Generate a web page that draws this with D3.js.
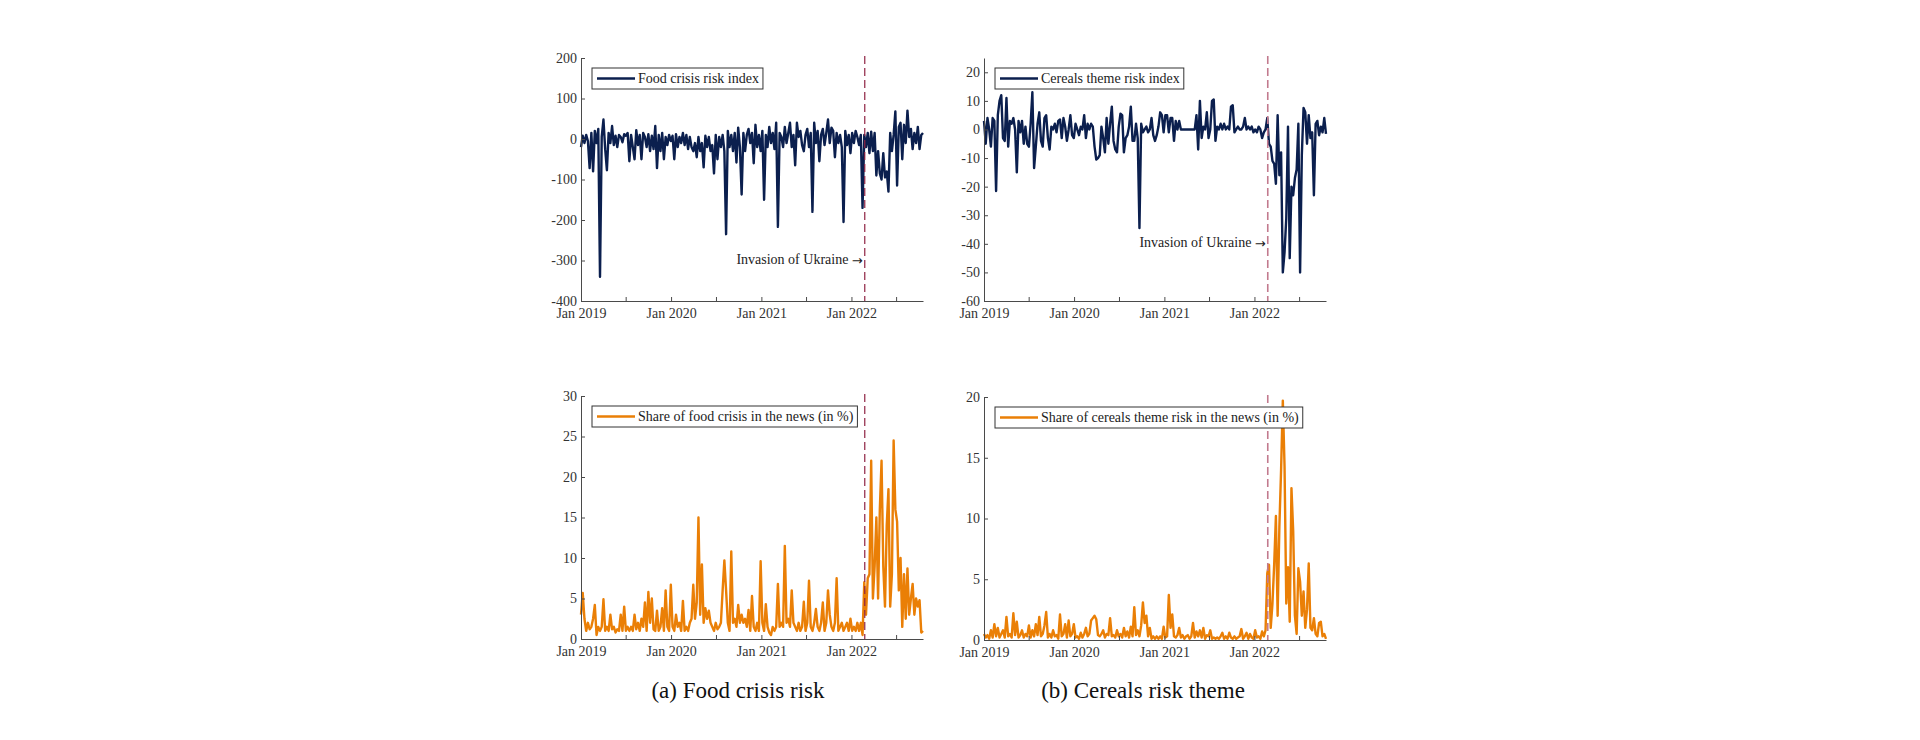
<!DOCTYPE html>
<html>
<head>
<meta charset="utf-8">
<script src="https://cdn.jsdelivr.net/npm/d3@7"></script>
<style>
body{margin:0;background:#fff;}
text{font-family:"Liberation Serif","DejaVu Serif",serif;}
</style>
</head>
<body>
<svg id="chart" width="1920" height="740"></svg>
<script>
// weekly observations starting Jan 1 2019
const startDate = new Date(2019, 0, 1)
const invasionDate = new Date(2022, 1, 24)
const xTickDates = [new Date(2019,0,1), new Date(2019,6,1), new Date(2020,0,1), new Date(2020,6,1),
                    new Date(2021,0,1), new Date(2021,6,1), new Date(2022,0,1), new Date(2022,6,1)]
const xTickLabels = ["Jan 2019", "", "Jan 2020", "", "Jan 2021", "", "Jan 2022", ""]

const foodRisk = [
  -20, 8, -10, 10, -5, -72, 15, -80, 20, -10,
  25, -340, 5, 48, -25, -77, 15, -10, 32, -15,
  8, -20, 10, 5, -8, 12, 8, 15, -55, 10,
  -20, -50, 22, -15, 10, -50, 15, 5, -20, 12,
  -30, 8, -25, 32, -72, 10, -30, 15, -50, 5,
  -15, 10, -5, 8, -50, 12, -20, 5, -10, 15,
  -15, 10, -25, 5, -20, -30, -10, -45, 5, -30,
  -10, -70, 8, -20, 5, -30, -15, -85, 10, -50,
  5, -20, 10, -30, -235, 20, -20, 10, -30, 15,
  -58, 28, -20, -137, 15, -30, 10, 25, -10, 15,
  -60, 35, -20, 10, -30, 20, -150, 10, -20, 30,
  -10, 15, -25, 40, -217, 15, 5, -20, 30, -10,
  15, 40, -20, 10, -65, 40, 5, 20, -15, -30,
  10, 25, -20, 15, -180, 40, -10, 20, -55, 10,
  25, -15, 15, 48, -10, 28, 20, -45, 15, -10,
  10, -20, -205, 20, -15, 10, -35, 15, -10, 20,
  5, -15, 10, -170, 10, -20, 15, -35, 18, -30,
  15, -90, -30, -85, -100, -35, -95, -80, -130, 15,
  -30, 10, 68, -115, 30, 40, -50, 35, -10, 70,
  5, 25, -25, 15, -10, 30, -25, 10, 15
]
const cerealsRisk = [
  3, -5, 4, 0, -6, 4, 3, -21.5, 5, 10,
  12, -3, -4, 11, -6, 3, 2, 4, 0, -15,
  3, -1, 3, -5, 1, -5, -6, 2, 13, -13.5,
  -6, 2, 6, -4, -6, 4, 5, -3, -7, 1,
  0, 2, -1, 3, 3.5, -3, 4, 1, -4, 0,
  5, -2, -3, 2, 0, -2, 1, 0, 5, -3,
  2, 0, 2, 1, -6, -10.5, -10, -9, 1, -3,
  -8, 4, -5, 2, 8, -4, -7, -8, 1, 5.5,
  5, -8, -3, -2, 1, 8, -4, -4, 2, -3,
  -34.5, 2, -1, 0, 1, -1, 0, 4, -2, -4,
  -2, 1, 6, 5, -1, 5, 5, -1, 4, 4,
  -4, 3, 0, 3, 0, 0, 0, 0, 0, 0,
  0, 0, 0, 5, -7, 10, -3, 1, 0, 6,
  -3, 0, 10, 10.5, -4, 1, 0, 2, 0, 2,
  0, 1, 0, 8, 8.5, -1, 0, 1, 0, 0,
  1, 4, 0, 1, 0, 1, -1, 0, -1, 1,
  0, -3, -1, 0, 4, -5, -6, -11, -12, -19,
  5, -16, -8, -50, -43, -31, 1, -45, -20, -23,
  -17, -14, 2, -50, -9, 7.5, 6, -5, 5, -3,
  -1, -23, 2, 3, -2, 1, -1, 4, -1.5
]
const foodShare = [
  3, 5.7, 2.5, 1, 2, 1.2, 1.5, 2.5, 4.2, 0.5,
  1.5, 1, 1.5, 4.9, 1, 1.5, 1, 3, 1.2, 1.5,
  0.8, 1.2, 1, 3, 1, 4, 1, 1.5, 1, 1.5,
  1, 3, 1.2, 2, 1, 2.5, 1.5, 4.5, 1, 5.8,
  2, 5, 1.2, 1, 3.5, 1, 1.5, 3.8, 1, 6,
  1.5, 1, 6.7, 1.5, 1, 3, 1.5, 2, 1, 4.7,
  1, 1.5, 1, 2, 2.5, 6.7, 2.5, 4.5, 15, 3,
  9.2, 2, 3.8, 2.5, 3.5, 2, 1.5, 1, 2, 1.2,
  1.5, 2, 6, 9.7, 6, 2, 1, 10.8, 2, 2.5,
  1.5, 4.2, 2, 3, 2, 2.5, 1.5, 3.6, 1, 5.3,
  1.5, 1, 2, 1, 9.6, 2, 1, 4.3, 1.5, 0.8,
  0.5, 1.5, 1, 1.5, 6.8, 1.5, 2, 1.5, 11.5, 2,
  2.5, 1.5, 6, 2, 1.5, 1, 2, 1, 1.5, 4.6,
  1, 2, 7.2, 1.5, 1, 2, 3.7, 1.5, 1, 2,
  4.5, 1, 2, 6, 3, 1.5, 1, 2, 7.5, 1,
  1.5, 2, 1, 1.5, 2, 1, 2.5, 1, 1.5, 1,
  2, 1, 2, 0.5, 7, 3, 7.5, 8, 22, 5,
  9, 15, 5, 16, 22, 9, 4, 14, 18.5, 4,
  8, 24.5, 16, 14.5, 6, 10, 1.5, 8, 2.5, 8.7,
  3, 5, 6.8, 3, 5, 4, 4.8, 0.8, 1
]
const cerealsShare = [
  0.5, 0.2, 0.4, 0.1, 0.8, 0.2, 1.3, 0.3, 1, 0.2,
  0.5, 0.8, 0.2, 1.9, 0.3, 0.5, 0.2, 2.2, 0.4, 1.5,
  0.2, 0.4, 0.8, 0.2, 0.5, 0.3, 1.2, 0.2, 0.8, 0.3,
  1.3, 0.4, 1.9, 0.3, 0.5, 1.2, 2.3, 0.2, 0.5, 0.2,
  0.8, 0.3, 0.4, 0.1, 2.1, 0.3, 0.5, 1.3, 0.2, 1.6,
  0.3, 0.5, 1.3, 0.2, 0.3, 0.1, 0.6, 0.2, 0.5, 1,
  0.3, 0.5, 1.6, 1.8, 2, 1.7, 0.4, 0.3, 0.5, 0.8,
  0.2, 0.5, 0.4, 1.8, 0.3, 0.4, 0.2, 0.8, 0.3, 0.5,
  0.2, 1, 0.3, 0.7, 0.2, 1.1, 0.3, 2.7, 0.4, 0.8,
  0.3, 1.2, 3.1, 1.4, 2, 0.3, 1, 0.1, 0.3, 0.1,
  0.3, 0.1, 0.3, 0.1, 1.1, 0.2, 0.3, 3.7, 1, 2.1,
  0.3, 0.2, 0.4, 1, 0.2, 0.4, 0.1, 0.3, 0.4, 0.1,
  0.3, 1.4, 0.2, 0.7, 0.3, 0.8, 0.2, 1, 0.1, 0.4,
  0.3, 0.8, 0.1, 0.2, 0.1, 0.2, 0.1, 0.3, 0.6, 0.1,
  0.3, 0.1, 0.6, 0.2, 0.1, 0.3, 0.1, 0.2, 0.3, 0.9,
  0.1, 0.3, 0.6, 0.1, 0.5, 0.2, 0.1, 0.8, 0.2, 0.3,
  0.1, 0.7, 0.3, 0.8, 5.5, 6.2, 1, 3, 6.2, 10.2,
  2, 9.3, 14, 19.7, 14.3, 3, 6, 1.5, 12.5, 9,
  2, 0.5, 5.9, 4.8, 2, 4, 1, 2.5, 6.3, 1,
  0.8, 1.8, 0.5, 0.3, 1.4, 1.5, 0.3, 0.5, 0.1
]

const foodRiskTicks = [-400, -300, -200, -100, 0, 100, 200]
const cerealsRiskTicks = [-60, -50, -40, -30, -20, -10, 0, 10, 20]
const foodShareTicks = [0, 5, 10, 15, 20, 25, 30]
const cerealsShareTicks = [0, 5, 10, 15, 20]

const dates = foodRisk.map((d, i) => d3.timeDay.offset(startDate, 7 * i))

const navy = "#0b1f4e"
const orange = "#ea7f06"
const axisColor = "#4a4a4a"

const panels = [
  {values: foodRisk, domain: [-400, 200], ticks: foodRiskTicks, label: "Food crisis risk index",
   color: navy, x0: 581, x1: 923, y0: 58, y1: 301, annot: -300, vline: "#8e2343", vw: 1.2},
  {values: cerealsRisk, domain: [-60, 25], ticks: cerealsRiskTicks, label: "Cereals theme risk index",
   color: navy, x0: 984, x1: 1326, y0: 58, y1: 301, annot: -40, vline: "#c27a8e", vw: 1.6},
  {values: foodShare, domain: [0, 30], ticks: foodShareTicks, label: "Share of food crisis in the news (in %)",
   color: orange, x0: 581, x1: 923, y0: 396, y1: 639, annot: null, vline: "#8e2343", vw: 1.2},
  {values: cerealsShare, domain: [0, 20], ticks: cerealsShareTicks, label: "Share of cereals theme risk in the news (in %)",
   color: orange, x0: 984, x1: 1326, y0: 397, y1: 640, annot: null, vline: "#c27a8e", vw: 1.6}
]

const svg = d3.select("#chart")

function drawPanel(p){
    const g = svg.append("g")
    const x = d3.scaleTime().domain([dates[0], dates[dates.length - 1]]).range([p.x0, p.x1])
    const y = d3.scaleLinear().domain(p.domain).range([p.y1, p.y0])

    const line = d3.line()
        .x((d, i) => x(dates[i]))
        .y(d => y(d))

    g.append("path")
        .datum(p.values)
        .attr("d", line)
        .attr("fill", "none")
        .attr("stroke", p.color)
        .attr("stroke-width", 2.4)
        .attr("stroke-linejoin", "round")

    // invasion marker
    g.append("line")
        .attr("x1", x(invasionDate)).attr("x2", x(invasionDate))
        .attr("y1", p.y0 - 2).attr("y2", p.y1)
        .attr("stroke", p.vline)
        .attr("stroke-width", p.vw)
        .attr("stroke-dasharray", "8,4")

    g.append("g")
        .attr("class", "xaxis")
        .attr("transform", `translate(0,${p.y1})`)
        .call(d3.axisBottom(x).tickValues(xTickDates).tickFormat((d, i) => xTickLabels[i])
              .tickSizeInner(-4).tickSizeOuter(0))
    g.append("g")
        .attr("transform", `translate(${p.x0},0)`)
        .call(d3.axisLeft(y).tickValues(p.ticks).tickFormat(d => String(d))
              .tickSizeInner(-4).tickSizeOuter(0).tickPadding(4))

    g.selectAll(".domain, .tick line").attr("stroke", axisColor)
    g.selectAll(".tick text")
        .attr("fill", "#333")
        .style("font-family", '"Liberation Serif","DejaVu Serif",serif')
        .style("font-size", "14px")
    g.selectAll(".xaxis .tick text").attr("y", 17).attr("dy", 0)

    if (p.annot !== null){
        const a = g.append("text")
            .attr("x", x(invasionDate) - 2)
            .attr("y", y(p.annot))
            .attr("text-anchor", "end")
            .attr("dominant-baseline", "middle")
            .attr("fill", "#222")
            .style("font-size", "14px")
        a.append("tspan").text("Invasion of Ukraine ")
        a.append("tspan").style("font-family", '"DejaVu Sans",sans-serif').style("font-size", "13px").text("\u2192")
    }

    // legend
    const lg = g.append("g").attr("transform", `translate(${p.x0 + 11},${p.y0 + 10})`)
    const box = lg.append("rect")
        .attr("height", 21)
        .attr("fill", "#fff")
        .attr("stroke", "#333")
        .attr("stroke-width", 1)
    lg.append("line")
        .attr("x1", 5).attr("x2", 43)
        .attr("y1", 10.5).attr("y2", 10.5)
        .attr("stroke", p.color)
        .attr("stroke-width", 2.4)
    const t = lg.append("text")
        .attr("x", 46).attr("y", 15)
        .attr("fill", "#222")
        .style("font-size", "14px")
        .text(p.label)
    box.attr("width", 46 + t.node().getComputedTextLength() + 4)
}

panels.forEach(drawPanel)

svg.append("text").attr("x", 738).attr("y", 698).attr("text-anchor", "middle")
    .style("font-size", "23px").attr("fill", "#111").text("(a) Food crisis risk")
svg.append("text").attr("x", 1143).attr("y", 698).attr("text-anchor", "middle")
    .style("font-size", "23px").attr("fill", "#111").text("(b) Cereals risk theme")
</script>
</body>
</html>
